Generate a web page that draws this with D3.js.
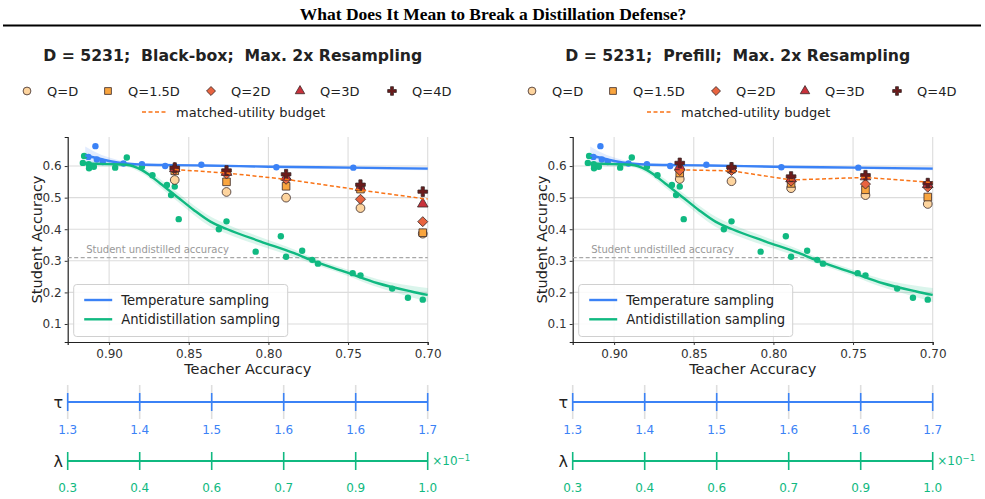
<!DOCTYPE html>
<html>
<head>
<meta charset="utf-8">
<script src="https://cdn.jsdelivr.net/npm/d3@7/dist/d3.min.js"></script>
<style>
  body { margin: 0; background: #fff; }
  svg { display: block; font-family: "DejaVu Sans", sans-serif; }
  .pre { white-space: pre; }
</style>
</head>
<body>
<svg id="svg" width="985" height="499"></svg>
<script>
// ---- data ----
const xTicks = [0.90, 0.85, 0.80, 0.75, 0.70];
const yTicks = [0.1, 0.2, 0.3, 0.4, 0.5, 0.6];
const studentBaseline = 0.31;

// temperature sampling points (teacher acc, student acc)
const tempX = [0.9086, 0.9130, 0.9077, 0.9040, 0.8910, 0.8794, 0.8648, 0.8421, 0.7950, 0.7467];
const tempY = [0.663, 0.629, 0.621, 0.613, 0.608, 0.606, 0.600, 0.604, 0.596, 0.595];
// smoothed fit + band half width
const tempFitX = [0.915, 0.910, 0.900, 0.890, 0.880, 0.860, 0.840, 0.800, 0.750, 0.700];
const tempFitY = [0.634, 0.628, 0.616, 0.608, 0.605, 0.603, 0.602, 0.598, 0.595, 0.592];
const tempBand = [0.028, 0.020, 0.011, 0.006, 0.004, 0.003, 0.003, 0.003, 0.004, 0.005];

// antidistillation sampling points
const antiX = [0.9157, 0.9165, 0.9128, 0.9126, 0.9096, 0.8962, 0.8889, 0.8794, 0.8728, 0.8637, 0.8588, 0.8611,
  0.8563, 0.8311, 0.8263, 0.8080, 0.7922, 0.7889, 0.7788, 0.7725, 0.7689, 0.7471, 0.7422, 0.7223, 0.7124, 0.7031];
const antiY = [0.632, 0.610, 0.606, 0.593, 0.598, 0.595, 0.627, 0.598, 0.571, 0.540, 0.535, 0.508,
  0.432, 0.400, 0.425, 0.329, 0.378, 0.313, 0.332, 0.303, 0.291, 0.261, 0.254, 0.212, 0.183, 0.177];
const antiFitX = [0.9162, 0.900, 0.8891, 0.8794, 0.8679, 0.8574, 0.8469, 0.8364, 0.8258, 0.8048, 0.7838, 0.7712, 0.7523, 0.7313, 0.7103, 0.700];
const antiFitY = [0.608, 0.606, 0.604, 0.587, 0.545, 0.503, 0.461, 0.424, 0.400, 0.361, 0.324, 0.298, 0.266, 0.229, 0.203, 0.192];
const antiBand = [0.008, 0.007, 0.007, 0.010, 0.013, 0.014, 0.015, 0.016, 0.015, 0.014, 0.012, 0.010, 0.010, 0.013, 0.018, 0.022];

// query budget markers, one row per Q level, one value per group
const groupX = [0.8588, 0.8263, 0.7889, 0.7422, 0.7031];
const qLabels = ["Q=D", "Q=1.5D", "Q=2D", "Q=3D", "Q=4D"];
const blackboxQ = [
  [0.556, 0.518, 0.500, 0.467, 0.386],
  [0.585, 0.550, 0.536, 0.527, 0.389],
  [0.588, 0.575, 0.558, 0.495, 0.424],
  [0.592, 0.580, 0.565, 0.532, 0.480],
  [0.595, 0.586, 0.574, 0.541, 0.519]
];
const prefillQ = [
  [0.559, 0.552, 0.530, 0.508, 0.480],
  [0.578, 0.590, 0.545, 0.525, 0.502],
  [0.586, 0.586, 0.552, 0.543, 0.533],
  [0.598, 0.592, 0.560, 0.566, 0.542],
  [0.610, 0.596, 0.567, 0.571, 0.546]
];
const budgetX = [0.8588, 0.8263, 0.7889, 0.7422, 0.7031, 0.700];
const blackboxBudget = [0.589, 0.578, 0.558, 0.524, 0.497, 0.496];
const prefillBudget = [0.588, 0.585, 0.556, 0.564, 0.549, 0.548];

const tauLabels = ["1.3", "1.4", "1.5", "1.6", "1.6", "1.7"];
const lambdaLabels = ["0.3", "0.4", "0.6", "0.7", "0.9", "1.0"];

// ---- styles ----
const BLUE = "#3b82f6";
const GREEN = "#10b981";
const ORANGE = "#f97316";
const qColors = ["#fdd49e", "#f9a53f", "#e8633f", "#c8313b", "#6b1b1b"];
const qShapes = ["circle", "square", "diamond", "triangle", "plus"];

const svg = d3.select("#svg");

// 図形のパスを返す
function markerPath(shape, k) {
  if (shape === "circle") return d3.symbol(d3.symbolCircle, 60 * k)();
  if (shape === "square") return d3.symbol(d3.symbolSquare, 58 * k)();
  if (shape === "diamond") return d3.symbol(d3.symbolSquare, 50 * k)();
  if (shape === "triangle") return d3.symbol(d3.symbolTriangle, 48 * k)();
  return d3.symbol(d3.symbolCross, 52 * k)();
}

function drawMarker(g, shape, color, cx, cy, k = 1) {
  g.append("path")
    .attr("d", markerPath(shape, k))
    .attr("transform", `translate(${cx},${cy})` + (shape === "diamond" ? " rotate(45)" : ""))
    .attr("fill", color)
    .attr("stroke", "#3a2a2a")
    .attr("stroke-width", 0.8);
}

// 上部タイトル
svg.append("text")
  .attr("x", 493).attr("y", 19.5)
  .attr("text-anchor", "middle")
  .attr("font-family", "'Liberation Serif', 'Times New Roman', serif")
  .attr("font-weight", "bold")
  .attr("font-size", 17.5)
  .text("What Does It Mean to Break a Distillation Defense?");
svg.append("line")
  .attr("x1", 3).attr("x2", 981).attr("y1", 25.5).attr("y2", 25.5)
  .attr("stroke", "#000").attr("stroke-width", 2);

function drawPanel(pl, title, qData, budget) {
  const pw = 360, top = 137, bottom = 342;
  const x = d3.scaleLinear().domain([0.926, 0.70]).range([pl, pl + pw]);
  const y = d3.scaleLinear().domain([0.043, 0.692]).range([bottom, top]);
  const g = svg.append("g");

  // subplot title
  g.append("text")
    .attr("class", "pre")
    .attr("x", pl + pw / 2 - 15).attr("y", 61)
    .attr("text-anchor", "middle")
    .attr("font-weight", "bold")
    .attr("font-size", 15.7)
    .attr("fill", "#222")
    .text("D = 5231;  " + title + ";  Max. 2x Resampling");

  // legend for markers
  const lx = [pl - 40.7, pl + 40.3, pl + 143.3, pl + 232.3, pl + 324.3];
  qLabels.forEach((lab, i) => {
    drawMarker(g, qShapes[i], qColors[i], lx[i], 91, 0.8);
    g.append("text").attr("x", lx[i] + 20).attr("y", 95.5)
      .attr("font-size", 13).attr("fill", "#222").text(lab);
  });
  g.append("line")
    .attr("x1", pl + 74.3).attr("x2", pl + 99.3).attr("y1", 112).attr("y2", 112)
    .attr("stroke", ORANGE).attr("stroke-width", 1.5).attr("stroke-dasharray", "4,2.5");
  g.append("text").attr("x", pl + 108.3).attr("y", 116.5)
    .attr("font-size", 13).attr("fill", "#222").text("matched-utility budget");

  // grid
  g.append("g").selectAll("line").data(xTicks).join("line")
    .attr("x1", d => x(d)).attr("x2", d => x(d)).attr("y1", top).attr("y2", bottom)
    .attr("stroke", "#dcdcdc").attr("stroke-width", 1.1);
  g.append("g").selectAll("line").data(yTicks).join("line")
    .attr("x1", pl).attr("x2", pl + pw).attr("y1", d => y(d)).attr("y2", d => y(d))
    .attr("stroke", "#dcdcdc").attr("stroke-width", 1.1);

  // axes
  const xAxis = g.append("g").attr("transform", `translate(0,${bottom})`)
    .call(d3.axisBottom(x).tickValues(xTicks).tickFormat(d3.format(".2f")).tickSize(3).tickPadding(4));
  const yAxis = g.append("g").attr("transform", `translate(${pl},0)`)
    .call(d3.axisLeft(y).tickValues(yTicks).tickFormat(d3.format(".1f")).tickSize(3).tickPadding(3));
  [xAxis, yAxis].forEach(a => {
    a.selectAll("text").attr("font-size", 12).attr("fill", "#333").attr("font-family", "DejaVu Sans");
    a.selectAll("line").attr("stroke", "#333");
    a.select(".domain").attr("stroke", "#222").attr("stroke-width", 1.2);
  });
  g.append("text")
    .attr("x", pl + pw / 2).attr("y", 374)
    .attr("text-anchor", "middle").attr("font-size", 14.5).attr("fill", "#222")
    .text("Teacher Accuracy");
  g.append("text")
    .attr("transform", `translate(${pl - 26},${(top + bottom) / 2}) rotate(-90)`)
    .attr("text-anchor", "middle").attr("font-size", 14.5).attr("fill", "#222")
    .text("Student Accuracy");

  // student baseline
  g.append("line")
    .attr("x1", pl).attr("x2", pl + pw).attr("y1", y(studentBaseline)).attr("y2", y(studentBaseline))
    .attr("stroke", "#a8a8a8").attr("stroke-width", 1.2).attr("stroke-dasharray", "4,2.5");
  g.append("text")
    .attr("x", pl + 18.5).attr("y", y(studentBaseline) - 5)
    .attr("font-size", 10).attr("fill", "#999")
    .text("Student undistilled accuracy");

  // bands
  const area = d3.area().curve(d3.curveMonotoneX);
  const line = d3.line().curve(d3.curveMonotoneX);
  g.append("path")
    .attr("d", area.x(d => x(d[0])).y0(d => y(d[1] - d[2])).y1(d => y(d[1] + d[2]))(
      tempFitX.map((v, i) => [v, tempFitY[i], tempBand[i]])))
    .attr("fill", BLUE).attr("opacity", 0.15);
  g.append("path")
    .attr("d", area.x(d => x(d[0])).y0(d => y(d[1] - d[2])).y1(d => y(d[1] + d[2]))(
      antiFitX.map((v, i) => [v, antiFitY[i], antiBand[i]])))
    .attr("fill", GREEN).attr("opacity", 0.15);

  // points
  g.append("g").selectAll("circle").data(tempX).join("circle")
    .attr("cx", d => x(d)).attr("cy", (d, i) => y(tempY[i])).attr("r", 3.2).attr("fill", BLUE);
  g.append("g").selectAll("circle").data(antiX).join("circle")
    .attr("cx", d => x(d)).attr("cy", (d, i) => y(antiY[i])).attr("r", 3.2).attr("fill", GREEN);

  // fit lines
  g.append("path")
    .attr("d", line.x(d => x(d[0])).y(d => y(d[1]))(tempFitX.map((v, i) => [v, tempFitY[i]])))
    .attr("fill", "none").attr("stroke", BLUE).attr("stroke-width", 2.4);
  g.append("path")
    .attr("d", line.x(d => x(d[0])).y(d => y(d[1]))(antiFitX.map((v, i) => [v, antiFitY[i]])))
    .attr("fill", "none").attr("stroke", GREEN).attr("stroke-width", 2.4);

  // Q markers
  qData.forEach((row, qi) => {
    row.forEach((v, gi) => drawMarker(g, qShapes[qi], qColors[qi], x(groupX[gi]), y(v)));
  });

  // budget line
  g.append("path")
    .attr("d", d3.line().x(d => x(d[0])).y(d => y(d[1]))(budgetX.map((v, i) => [v, budget[i]])))
    .attr("fill", "none").attr("stroke", ORANGE).attr("stroke-width", 1.5)
    .attr("stroke-dasharray", "4,2.5");

  // inner legend
  g.append("rect")
    .attr("x", pl + 6).attr("y", 284.5).attr("width", 214).attr("height", 52).attr("rx", 3)
    .attr("fill", "#fff").attr("fill-opacity", 0.85).attr("stroke", "#d0d0d0");
  [["Temperature sampling", BLUE, 300], ["Antidistillation sampling", GREEN, 319.3]].forEach(([lab, col, ly]) => {
    g.append("line").attr("x1", pl + 16.5).attr("x2", pl + 44.5).attr("y1", ly).attr("y2", ly)
      .attr("stroke", col).attr("stroke-width", 2.4);
    g.append("text").attr("x", pl + 53.5).attr("y", ly + 4.8)
      .attr("font-size", 13.2).attr("fill", "#222").text(lab);
  });

  // parameter axes (tau, lambda)
  const p = d3.scalePoint().domain(d3.range(tauLabels.length)).range([pl, pl + pw]);
  const rows = [
    { sym: "τ", labels: tauLabels, col: BLUE, ly: 402, ty: 434, grid: true },
    { sym: "λ", labels: lambdaLabels, col: GREEN, ly: 461, ty: 492, grid: false }
  ];
  rows.forEach(r => {
    const rg = g.append("g");
    if (r.grid) {
      rg.selectAll(".grid").data(r.labels).join("line")
        .attr("x1", (d, i) => p(i)).attr("x2", (d, i) => p(i))
        .attr("y1", r.ly - 17).attr("y2", r.ly + 17)
        .attr("stroke", "#dedede").attr("stroke-width", 1.6);
    }
    rg.append("line").attr("x1", pl).attr("x2", pl + pw).attr("y1", r.ly).attr("y2", r.ly)
      .attr("stroke", r.col).attr("stroke-width", 1.8);
    rg.selectAll(".tk").data(r.labels).join("line")
      .attr("x1", (d, i) => p(i)).attr("x2", (d, i) => p(i))
      .attr("y1", r.ly - 9).attr("y2", r.ly + 9)
      .attr("stroke", r.col).attr("stroke-width", 1.6);
    rg.selectAll("text.lab").data(r.labels).join("text")
      .attr("x", (d, i) => p(i)).attr("y", r.ty)
      .attr("text-anchor", "middle").attr("font-size", 12).attr("fill", r.col)
      .text(d => d);
    rg.append("text").attr("x", pl - 9.5).attr("y", r.ly + 5.5)
      .attr("text-anchor", "middle").attr("font-size", 16).attr("fill", "#222").text(r.sym);
  });
  const sci = g.append("text").attr("x", pl + pw + 4.5).attr("y", 465)
    .attr("font-size", 12).attr("fill", GREEN);
  sci.append("tspan").text("×10");
  sci.append("tspan").attr("dy", -4.5).attr("font-size", 8.5).text("−1");
}

drawPanel(67.7, "Black-box", blackboxQ, blackboxBudget);
drawPanel(572.7, "Prefill", prefillQ, prefillBudget);
</script>
</body>
</html>
